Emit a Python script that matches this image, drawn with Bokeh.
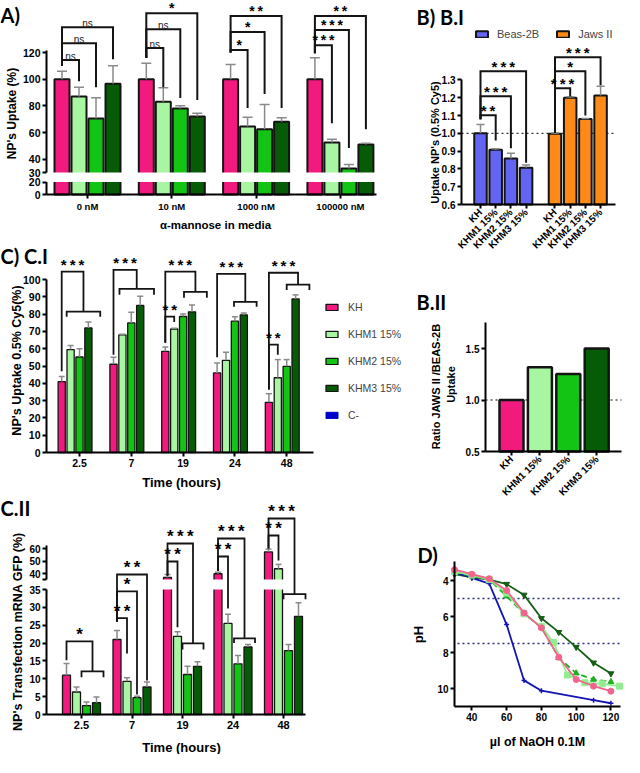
import numpy as np
from math import pi
from bokeh.plotting import figure
from bokeh.layouts import row, column
from bokeh.models import (Range1d, FixedTicker, Label, Legend, LegendItem,
                          NumeralTickFormatter)
from bokeh.embed import file_html
from bokeh.resources import INLINE
from bokeh.core.properties import value

# ======================= DATA =======================
series = ["KH", "KHM1 15%", "KHM2 15%", "KHM3 15%"]

# ---- Panel A : NP uptake vs alpha-mannose in media ----
a_groups = ["0 nM", "10 nM", "1000 nM", "100000 nM"]
a_kh = [100, 100, 100, 100]
a_kh_sd = [6, 12, 11, 16]
a_khm1 = [87, 83, 64.5, 52.5]
a_khm1_sd = [7, 10.5, 7, 2.5]
a_khm2 = [70.5, 78, 62.5, 33]
a_khm2_sd = [15.5, 2, 18.5, 3]
a_khm3 = [96.5, 72, 68, 51]
a_khm3_sd = [13.5, 2.5, 3, 1]
a_yticks = [0, 20, 30, 40, 60, 80, 100, 120]
# (group, from series, to series, level, left end, right end, label)
a_sig = [
    (0, 0, 1, 114.3, 109.8, 98.5, "ns"),
    (0, 0, 2, 127.0, 109.8, 94.0, "ns"),
    (0, 0, 3, 139.0, 109.8, 115.0, "ns"),
    (1, 0, 1, 123.3, 115.8, 94.0, "ns"),
    (1, 0, 2, 137.5, 115.8, 85.8, "ns"),
    (1, 0, 3, 149.5, 115.8, 84.3, "*"),
    (2, 0, 1, 121.8, 120.0, 78.3, "*"),
    (2, 0, 2, 135.3, 120.0, 88.8, "*"),
    (2, 0, 3, 147.3, 120.0, 78.3, "**"),
    (3, 0, 1, 125.5, 119.5, 67.0, "***"),
    (3, 0, 2, 136.8, 119.5, 48.3, "***"),
    (3, 0, 3, 147.3, 119.5, 62.5, "**"),
]

# ---- Panel B.I : uptake per cell line ----
b_cells = ["Beas-2B", "Jaws II"]
b_beas = [1.0, 0.907, 0.858, 0.806]
b_beas_sd = [0.05, 0.006, 0.03, 0.016]
b_jaws = [0.998, 1.2, 1.08, 1.213]
b_jaws_sd = [0.003, 0.005, 0.003, 0.052]
b_yticks = [0.6, 0.7, 0.8, 0.9, 1.0, 1.1, 1.2, 1.3]
# (cell, from, to, level, left end, right end, label)
b_sig = [
    (0, 0, 1, 1.101, 1.079, 0.960, "**"),
    (0, 0, 2, 1.208, 1.079, 0.916, "***"),
    (0, 0, 3, 1.348, 1.079, 0.835, "***"),
    (1, 0, 1, 1.253, 1.003, 1.207, "***"),
    (1, 0, 2, 1.348, 1.003, 1.100, "*"),
    (1, 0, 3, 1.427, 1.003, 1.270, "***"),
]

# ---- Panel B.II : ratio Jaws II / Beas-2B ----
b2_ratio = [1.0, 1.317, 1.252, 1.5]
b2_yticks = [0.5, 1.0, 1.5]

# ---- Panel C.I : uptake vs time ----
c_times = ["2.5", "7", "19", "24", "48"]
c1_kh = [41, 51, 58.5, 46, 29]
c1_kh_sd = [3, 4, 2.5, 5.7, 5]
c1_khm1 = [59.5, 68, 71.4, 53.3, 43.2]
c1_khm1_sd = [2.3, 0.3, 0.4, 4.6, 10.5]
c1_khm2 = [55.2, 74.9, 78.6, 75.9, 49.8]
c1_khm2_sd = [4.8, 6.1, 1.5, 2.5, 3.9]
c1_khm3 = [72, 85, 81.3, 79.5, 88.8]
c1_khm3_sd = [3.5, 5.3, 4, 1.2, 2.3]
c1_cneg = [0, 0, 0, 0, 0]
c1_yticks = list(range(0, 101, 10))
# (time, level, left end, sub-bracket from, to, sub level, sub end, label)
c1_sig_top = [
    (0, 104.5, 47.0, -1.44, 2.33, 81.4, 78.5, "***"),
    (1, 105.6, 56.5, -1.33, 2.55, 94.6, 91.2, "***"),
    (2, 104.5, 63.5, 0.10, 2.67, 92.9, 89.4, "***"),
    (3, 103.3, 55.0, -0.10, 2.44, 87.1, 84.2, "***"),
    (4, 103.9, 36.4, 0.00, 2.55, 97.0, 94.0, "***"),
]
c1_sig_pair = [
    (2, 0, 1, 78.5, 63.5, 75.5, "**"),
    (4, 0, 1, 62.3, 36.4, 56.5, "**"),
]

# ---- Panel C.II : transfection vs time ----
c2_kh = [11, 21, 36.8, 39.8, 57.3]
c2_kh_sd = [3.3, 2.5, 2.4, 1.2, 2.2]
c2_khm1 = [6.3, 9.3, 21.9, 25.5, 43.8]
c2_khm1_sd = [1.4, 1.0, 1.3, 2.6, 3.5]
c2_khm2 = [2.5, 4.7, 11.2, 14.2, 17.9]
c2_khm2_sd = [1.0, 0.4, 2.3, 2.3, 1.7]
c2_khm3 = [3.3, 7.7, 13.5, 18.9, 27.5]
c2_khm3_sd = [1.6, 1.4, 1.3, 0.7, 3.8]
c2_yticks = [0, 5, 10, 15, 20, 25, 30, 35, 40, 50, 60]
c2_sig_top = [
    (0, 20.5, 15.2, 0.0, 2.2, 12.1, 10.4, "*"),
    (2, 64.0, 38.3, 0.0, 2.1, 19.9, 18.2, "***"),
    (3, 68.0, 42.0, 0.1, 2.2, 21.3, 20.0, "***"),
    (4, 84.0, 60.0, 0.0, 2.2, 33.7, 32.3, "***"),
]
c2_sig_pair = [
    (1, 0, 1, 27.0, 26.0, 17.1, "**"),
    (1, 0, 2, 34.5, 26.0, 5.6, "*"),
    (1, 0, 3, 39.2, 26.0, 9.5, "**"),
    (2, 0, 1, 49.6, 38.3, 24.4, "**"),
    (3, 0, 1, 53.6, 42.0, 29.7, "**"),
    (4, 0, 1, 70.4, 60.0, 50.4, "**"),
]

# ---- Panel D : titration curves ----
d_x = [30, 40, 50, 60, 70, 80, 90, 100, 110, 120]
d_kh = [3.4, 3.65, 3.9, 4.55, 5.8, 6.63, 8.26, 9.5, 9.87, 10.15]
d_khm1_x = [30, 40, 50, 60, 70, 80, 87, 95, 105, 115, 125]
d_khm1 = [3.5, 3.7, 3.95, 4.7, 5.85, 6.55, 7.45, 9.25, 9.68, 9.74, 9.87]
d_khm2 = [3.55, 3.75, 3.95, 4.87, 5.85, 6.6, 8.3, 9.15, 9.5, 9.63]
d_khm3 = [3.65, 3.82, 3.95, 4.2, 4.8, 6.1, 6.87, 7.7, 8.57, 9.17]
d_cneg_x = [30, 40, 50, 60, 70, 80, 110, 120]
d_cneg = [3.55, 3.85, 4.17, 6.45, 9.55, 10.12, 10.65, 10.82]
d_xticks = [40, 60, 80, 100, 120]
d_yticks = [4, 6, 8, 10]
d_ref_ph = [5.0, 7.5]

# ======================= STYLE =======================
PINK = "#F2197F"
LGREEN = "#A8F5A2"
GREEN = "#14C414"
DGREEN = "#065C06"
BLUE_B = "#6464F2"
ORANGE = "#FF8A17"
CNEG = "#0000CC"
EDGE = "#141414"
ERR = "#8A8A8A"
FONT = "Liberation Sans"
PFONT = "Lato"
BAR_COLORS = [PINK, LGREEN, GREEN, DGREEN]
D_COLORS = ["#F2648C", "#90EE90", "#1DAF1D", "#165E16", "#1414B4"]
THIN = "\u2009"


def stars(t):
    return THIN.join(t) if "*" in t else t


class Geo:
    """pixel <-> data mapping for a figure whose frame is the whole canvas"""

    def __init__(self, W, H, ppx, ppy, ax_px, ax_val, ay_px, ay_val, flip=False):
        self.W, self.H, self.ppx, self.ppy = W, H, ppx, ppy
        self.flip = flip
        self.x0 = ax_val - ax_px / ppx
        self.x1 = ax_val + (W - ax_px) / ppx
        if not flip:
            self.ytop = ay_val + ay_px / ppy
            self.ybot = ay_val - (H - ay_px) / ppy
        else:
            self.ytop = ay_val - ay_px / ppy
            self.ybot = ay_val + (H - ay_px) / ppy

    def X(self, px):
        return self.x0 + px / self.ppx

    def Y(self, py):
        return self.ytop - py / self.ppy if not self.flip else self.ytop + py / self.ppy


def make_fig(g, tick_size="10.5px"):
    p = figure(width=g.W, height=g.H, x_range=Range1d(g.x0, g.x1),
               y_range=Range1d(g.ybot, g.ytop), output_backend="svg",
               toolbar_location=None, tools="", title=None,
               min_border_left=0, min_border_right=0,
               min_border_top=0, min_border_bottom=0)
    p.grid.grid_line_color = None
    p.outline_line_color = None
    p.background_fill_color = "white"
    p.border_fill_color = "white"
    for ax in list(p.xaxis) + list(p.yaxis):
        ax.axis_line_width = 2
        ax.axis_line_color = "black"
        ax.major_tick_line_width = 2
        ax.major_tick_line_color = "black"
        ax.major_tick_out = 4
        ax.major_tick_in = 0
        ax.minor_tick_line_color = None
        ax.major_label_text_font = FONT
        ax.major_label_text_font_style = "bold"
        ax.major_label_text_font_size = tick_size
        ax.major_label_text_color = "black"
        ax.major_label_standoff = 2
    return p


def lab(p, g, px, py, text, size, bold=True, font=FONT, angle=0.0,
        align="center", baseline="middle"):
    p.add_layout(Label(x=px, y=g.H - py, x_units="screen", y_units="screen", text=text,
                       text_font=font, text_font_size=size,
                       text_font_style="bold" if bold else "normal",
                       angle=angle, text_align=align, text_baseline=baseline,
                       text_color="black"))


def bars(p, xs, vals, sds, width, color, tr, lw, cap, bottom=0.0, err_w=1.5):
    tops = [tr(v) for v in vals]
    r = p.vbar(x=xs, top=tops, bottom=bottom, width=width, fill_color=color,
               line_color=EDGE, line_width=lw)
    et = [tr(v + s) for v, s in zip(vals, sds)]
    p.segment(x0=xs, y0=tops, x1=xs, y1=et, line_color=ERR, line_width=err_w)
    p.segment(x0=[x - cap for x in xs], y0=et, x1=[x + cap for x in xs], y1=et,
              line_color=ERR, line_width=err_w)
    return r


def brackets(p, items, lw=2.0):
    xs = [[a, a, b, b] for a, b, lv, le, re in items]
    ys = [[le, lv, lv, re] for a, b, lv, le, re in items]
    p.multi_line(xs=xs, ys=ys, line_color=EDGE, line_width=lw, line_join="miter")


def sig_text(p, xs, ys, texts, star_size, ns_size="10px", star_off=0, ns_off=-4):
    st = [(x, y, stars(t)) for x, y, t in zip(xs, ys, texts) if "*" in t]
    ns = [(x, y, t) for x, y, t in zip(xs, ys, texts) if "*" not in t]
    if st:
        p.text(x=[s[0] for s in st], y=[s[1] for s in st], text=[s[2] for s in st],
               text_font=value(FONT), text_font_size=value(star_size),
               text_font_style="bold", text_align="center",
               text_baseline="alphabetic", y_offset=star_off, text_color="black")
    if ns:
        p.text(x=[s[0] for s in ns], y=[s[1] for s in ns], text=[s[2] for s in ns],
               text_font=value(FONT), text_font_size=value(ns_size),
               text_align="center", text_baseline="alphabetic",
               y_offset=ns_off, text_color="#222222")


ident = lambda v: v

# ======================= PANEL A =======================
a_px = 84.3
def a_tr(v):
    return v * 0.46875 if v <= 20 else v - 13.5

gA = Geo(404, 234, a_px, 4.0 / 3.0, 87, 0, 194, 0)
pA = make_fig(gA)
a_slot, a_barw = 17.0 / a_px, 15.0 / a_px
a_vals = [a_kh, a_khm1, a_khm2, a_khm3]
a_sds = [a_kh_sd, a_khm1_sd, a_khm2_sd, a_khm3_sd]
for j in range(4):
    xs = [g + (j - 1.5) * a_slot for g in range(len(a_groups))]
    bars(pA, xs, a_vals[j], a_sds[j], a_barw, BAR_COLORS[j], a_tr, 2, 5.0 / a_px)
a_axx = gA.X(46)
pA.quad(left=[gA.X(47)], right=[gA.X(400)], bottom=[a_tr(20)], top=[a_tr(30)],
        fill_color="white", line_color=None)
pA.segment(x0=[a_axx, a_axx], y0=[0, a_tr(30)], x1=[a_axx, a_axx], y1=[a_tr(20), a_tr(121.5)],
           line_color="black", line_width=2)
pA.yaxis.fixed_location = a_axx
pA.yaxis.axis_line_color = None
a_tick_pos = [a_tr(v) for v in a_yticks]
pA.yaxis.ticker = FixedTicker(ticks=a_tick_pos)
pA.yaxis.major_label_overrides = {t: str(v) for t, v in zip(a_tick_pos, a_yticks)}
pA.xaxis.fixed_location = 0
pA.xaxis.ticker = FixedTicker(ticks=list(range(len(a_groups))))
pA.xaxis.major_label_overrides = {i: g for i, g in enumerate(a_groups)}
pA.xaxis.major_label_text_font_size = "9.5px"
pA.xaxis.bounds = (a_axx, gA.X(376))
items, tx, ty, tt = [], [], [], []
for g, s0, s1, lv, le, re, t in a_sig:
    xl = g + (s0 - 1.5) * a_slot
    xr = g + (s1 - 1.5) * a_slot
    items.append((xl, xr, a_tr(lv), a_tr(le), a_tr(re)))
    tx.append((xl + xr) / 2)
    ty.append(a_tr(lv))
    tt.append(t)
brackets(pA, items, 2)
sig_text(pA, tx, ty, tt, "14px", "10px", star_off=-5, ns_off=-4)
lab(pA, gA, 0, 2, "A)", "20px", font=PFONT, align="left", baseline="top")
lab(pA, gA, 11, 113, "NP's Uptake (%)", "12px", angle=pi / 2)
lab(pA, gA, 215, 224, "\u03b1-mannose in media", "11.5px")

# ======================= PANEL C.I =======================
c1_px = 51.8
gC1 = Geo(404, 258, c1_px, 1.73, 79, 0, 218, 0)
pC1 = make_fig(gC1)
c1_slot, c1_barw = 8.9 / c1_px, 7.2 / c1_px
c1_vals = [c1_kh, c1_khm1, c1_khm2, c1_khm3, c1_cneg]
c1_sds = [c1_kh_sd, c1_khm1_sd, c1_khm2_sd, c1_khm3_sd, c1_cneg]
c1_r = []
for j in range(5):
    xs = [g + (j - 2) * c1_slot for g in range(len(c_times))]
    if j < 4:
        c1_r.append(bars(pC1, xs, c1_vals[j], c1_sds[j], c1_barw, BAR_COLORS[j], ident,
                         1.3, 3.0 / c1_px))
    else:
        c1_r.append(pC1.vbar(x=xs, top=c1_vals[j], bottom=0, width=c1_barw,
                             fill_color=CNEG, line_color=CNEG, line_width=1))
c1_axx = gC1.X(46)
pC1.yaxis.fixed_location = c1_axx
pC1.yaxis.ticker = FixedTicker(ticks=c1_yticks)
pC1.yaxis.bounds = (0, 100)
pC1.xaxis.fixed_location = 0
pC1.xaxis.ticker = FixedTicker(ticks=list(range(len(c_times))))
pC1.xaxis.major_label_overrides = {i: t for i, t in enumerate(c_times)}
pC1.xaxis.bounds = (c1_axx, gC1.X(313))
items, tx, ty, tt = [], [], [], []
for g, lv, le, s0, s1, slv, sle, t in c1_sig_top:
    sl = g + s0 * c1_slot
    sr = g + s1 * c1_slot
    xl = g - 2 * c1_slot
    xr = (sl + sr) / 2
    items.append((xl, xr, lv, le, slv))
    items.append((sl, sr, slv, sle, sle))
    tx.append((xl + xr) / 2)
    ty.append(lv)
    tt.append(t)
for g, s0, s1, lv, le, re, t in c1_sig_pair:
    xl = g + (s0 - 2) * c1_slot
    xr = g + (s1 - 2) * c1_slot
    items.append((xl, xr, lv, le, re))
    tx.append((xl + xr) / 2)
    ty.append(lv)
    tt.append(t)
brackets(pC1, items, 1.8)
sig_text(pC1, tx, ty, tt, "15px", star_off=-7)
leg1 = Legend(items=[LegendItem(label=s, renderers=[r]) for s, r in zip(series + ["C-"], c1_r)],
              location=(324, 71), orientation="vertical", glyph_width=15, glyph_height=8,
              label_height=8, label_width=10, spacing=15, padding=0, margin=0,
              label_standoff=9, label_text_font=FONT, label_text_font_size="10.5px",
              border_line_color=None, background_fill_alpha=0)
pC1.add_layout(leg1)
lab(pC1, gC1, 0, 9, "C) C.I", "20px", font=PFONT, align="left", baseline="top")
lab(pC1, gC1, 16, 126, "NP's Uptake 0.5% Cy5(%)", "12.5px", angle=pi / 2)
lab(pC1, gC1, 181, 248, "Time (hours)", "13px")

# ======================= PANEL C.II =======================
c2_px = 50.5
def c2_tr(v):
    return v if v <= 35 else 39.48 + (v - 40) * 0.35

C2_UP0 = 37.8
gC2 = Geo(404, 262, c2_px, 3.571, 81, 0, 222, 0)
pC2 = make_fig(gC2, tick_size="10px")
c2_slot, c2_barw = 10.0 / c2_px, 8.0 / c2_px
c2_vals = [c2_kh, c2_khm1, c2_khm2, c2_khm3]
c2_sds = [c2_kh_sd, c2_khm1_sd, c2_khm2_sd, c2_khm3_sd]
for j in range(4):
    xs = [g + (j - 1.5) * c2_slot for g in range(len(c_times))]
    bars(pC2, xs, c2_vals[j], c2_sds[j], c2_barw, BAR_COLORS[j], c2_tr, 1.3, 3.0 / c2_px)
c2_axx = gC2.X(46)
pC2.quad(left=[gC2.X(47)], right=[gC2.X(320)], bottom=[c2_tr(35)], top=[C2_UP0],
         fill_color="white", line_color=None)
pC2.segment(x0=[c2_axx, c2_axx], y0=[0, C2_UP0], x1=[c2_axx, c2_axx],
            y1=[c2_tr(35), c2_tr(62.5)], line_color="black", line_width=2)
pC2.yaxis.fixed_location = c2_axx
pC2.yaxis.axis_line_color = None
c2_tick_pos = [c2_tr(v) for v in c2_yticks]
pC2.yaxis.ticker = FixedTicker(ticks=c2_tick_pos + [C2_UP0])
ov = {t: str(v) for t, v in zip(c2_tick_pos, c2_yticks)}
ov[C2_UP0] = ""
pC2.yaxis.major_label_overrides = ov
pC2.xaxis.fixed_location = 0
pC2.xaxis.ticker = FixedTicker(ticks=list(range(len(c_times))))
pC2.xaxis.major_label_overrides = {i: t for i, t in enumerate(c_times)}
pC2.xaxis.major_label_text_font_size = "11px"
pC2.xaxis.bounds = (c2_axx, gC2.X(305))
items, tx, ty, tt = [], [], [], []
for g, lv, le, s0, s1, slv, sle, t in c2_sig_top:
    sl = g + s0 * c2_slot
    sr = g + s1 * c2_slot
    xl = g - 1.5 * c2_slot
    xr = (sl + sr) / 2
    items.append((xl, xr, c2_tr(lv), c2_tr(le), c2_tr(slv)))
    items.append((sl, sr, c2_tr(slv), c2_tr(sle), c2_tr(sle)))
    tx.append((xl + xr) / 2)
    ty.append(c2_tr(lv))
    tt.append(t)
for g, s0, s1, lv, le, re, t in c2_sig_pair:
    xl = g + (s0 - 1.5) * c2_slot
    xr = g + (s1 - 1.5) * c2_slot
    items.append((xl, xr, c2_tr(lv), c2_tr(le), c2_tr(re)))
    tx.append((xl + xr) / 2)
    ty.append(c2_tr(lv))
    tt.append(t)
brackets(pC2, items, 1.8)
sig_text(pC2, tx, ty, tt, "17px", star_off=-7)
lab(pC2, gC2, 0, 3, "C.II", "20px", font=PFONT, align="left", baseline="top")
lab(pC2, gC2, 17, 139, "NP's Transfection mRNA GFP (%)", "12.5px", angle=pi / 2)
lab(pC2, gC2, 181, 255, "Time (hours)", "13px")

# ======================= PANEL B.I =======================
b1_px = 15.2
gB1 = Geo(220, 264, b1_px, 178.0, 76, 0, 204, 0.6)
pB1 = make_fig(gB1, tick_size="10px")
b1_gap = 4.9
b1_barw = 12.5 / b1_px
b1_axx = gB1.X(57)
pB1.segment(x0=[b1_axx], y0=[1.0], x1=[gB1.X(211)], y1=[1.0], line_color="black",
            line_width=1, line_dash="2 3")
b_vals = [b_beas, b_jaws]
b_sds = [b_beas_sd, b_jaws_sd]
b_cols = [BLUE_B, ORANGE]
b_r = []
b_pos = []
for c in range(2):
    xs = [c * b1_gap + j for j in range(4)]
    b_pos += xs
    b_r.append(bars(pB1, xs, b_vals[c], b_sds[c], b1_barw, b_cols[c], ident, 2,
                    4.0 / b1_px, bottom=0.6))
pB1.yaxis.fixed_location = b1_axx
pB1.yaxis.ticker = FixedTicker(ticks=b_yticks)
pB1.yaxis.formatter = NumeralTickFormatter(format="0.0")
pB1.yaxis.bounds = (0.6, 1.3)
pB1.xaxis.fixed_location = 0.6
pB1.xaxis.ticker = FixedTicker(ticks=b_pos)
pB1.xaxis.major_label_overrides = {x: s for x, s in zip(b_pos, series + series)}
pB1.xaxis.major_label_orientation = pi / 4
pB1.xaxis.bounds = (b1_axx, gB1.X(211))
items, tx, ty, tt = [], [], [], []
for c, s0, s1, lv, le, re, t in b_sig:
    xl = c * b1_gap + s0
    xr = c * b1_gap + s1
    items.append((xl, xr, lv, le, re))
    tx.append((xl + xr) / 2)
    ty.append(lv)
    tt.append(t)
brackets(pB1, items, 2)
sig_text(pB1, tx, ty, tt, "15px", star_off=-5)
legB = Legend(items=[LegendItem(label=s, renderers=[r]) for s, r in zip(b_cells, b_r)],
              location=(70, 224), orientation="horizontal", glyph_width=15, glyph_height=8,
              label_height=8, label_width=10, spacing=16, padding=0, margin=0,
              label_standoff=8, label_text_font=FONT, label_text_font_size="11px",
              border_line_color=None, background_fill_alpha=0)
pB1.add_layout(legB)
lab(pB1, gB1, 12, 4, "B) B.I", "20px", font=PFONT, align="left", baseline="top")
lab(pB1, gB1, 30, 142, "Uptake NP's (0.5% Cy5)", "11px", angle=pi / 2)

# ======================= PANEL B.II =======================
b2_px = 28.4
gB2 = Geo(220, 240, b2_px, 103.0, 107, 0, 187, 0.5)
pB2 = make_fig(gB2, tick_size="10px")
b2_axx = gB2.X(81)
pB2.segment(x0=[b2_axx], y0=[1.0], x1=[gB2.X(217)], y1=[1.0], line_color="black",
            line_width=1, line_dash="2 3")
b2_x = list(range(len(series)))
pB2.vbar(x=b2_x, top=b2_ratio, bottom=0.5, width=24.0 / b2_px, fill_color=BAR_COLORS,
         line_color=EDGE, line_width=2.5)
pB2.yaxis.fixed_location = b2_axx
pB2.yaxis.ticker = FixedTicker(ticks=b2_yticks)
pB2.yaxis.formatter = NumeralTickFormatter(format="0.0")
pB2.yaxis.bounds = (0.5, 1.75)
pB2.xaxis.fixed_location = 0.5
pB2.xaxis.ticker = FixedTicker(ticks=b2_x)
pB2.xaxis.major_label_overrides = {i: s for i, s in enumerate(series)}
pB2.xaxis.major_label_orientation = pi / 4
pB2.xaxis.bounds = (b2_axx, gB2.X(217))
lab(pB2, gB2, 12, 25, "B.II", "20px", font=PFONT, align="left", baseline="top")
lab(pB2, gB2, 31, 122, "Ratio JAWS II /BEAS-2B", "11px", angle=pi / 2)
lab(pB2, gB2, 46, 120, "Uptake", "11px", angle=pi / 2)

# ======================= PANEL D =======================
gD = Geo(220, 253, 1.738, 18.0, 50, 30, 76, 4, flip=True)
pD = make_fig(gD, tick_size="10px")
d_xend = 125.5
for ph in d_ref_ph:
    pD.segment(x0=[gD.X(53)], y0=[ph], x1=[d_xend], y1=[ph], line_color="#2E2E80",
               line_width=1.3, line_dash="2 3")
curves = [
    (d_x, d_khm3, D_COLORS[3], "inverted_triangle", None),
    (d_cneg_x, d_cneg, D_COLORS[4], "cross", None),
    (d_x, d_khm2, D_COLORS[2], "triangle", "6 4"),
    (d_khm1_x, d_khm1, D_COLORS[1], "square", None),
    (d_x, d_kh, D_COLORS[0], "circle", None),
]
for xs, ys, col, mk, dash in curves:
    if dash:
        pD.line(xs, ys, line_color=col, line_width=1.8, line_dash=dash)
    else:
        pD.line(xs, ys, line_color=col, line_width=1.8)
    pD.scatter(xs, ys, marker=mk, size=6 if mk != "cross" else 5, fill_color=col,
               line_color=col, line_width=1.5 if mk == "cross" else 1)
pD.yaxis.fixed_location = 30
pD.yaxis.ticker = FixedTicker(ticks=d_yticks)
pD.yaxis.bounds = (2.944, 11.0)
pD.xaxis.fixed_location = 11.0
pD.xaxis.ticker = FixedTicker(ticks=d_xticks)
pD.xaxis.bounds = (30, d_xend)
lab(pD, gD, 13, 38, "D)", "20px", font=PFONT, align="left", baseline="top")
lab(pD, gD, 14, 130, "pH", "13px", angle=pi / 2)
lab(pD, gD, 133, 237, "\u00b5l of NaOH 0.1M", "12.5px")

layout = row(column(pA, pC1, pC2), column(pB1, pB2, pD))
open("out.html", "w").write(file_html(layout, INLINE))
